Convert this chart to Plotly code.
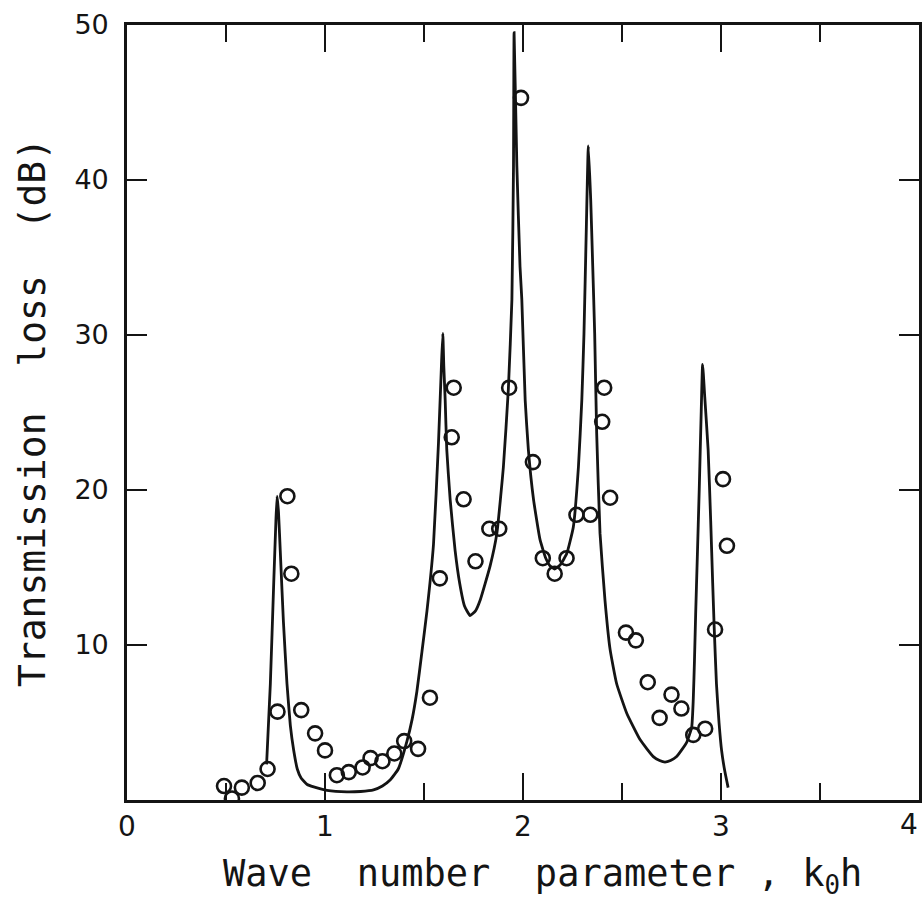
import plotly.graph_objects as go

# Measured transmission loss (open circles)
meas_k0h = [0.49, 0.53, 0.58, 0.66, 0.71, 0.76, 0.81, 0.83, 0.88, 0.95, 1.00,
            1.06, 1.12, 1.19, 1.23, 1.29, 1.35, 1.40, 1.47, 1.53, 1.58, 1.64,
            1.65, 1.70, 1.76, 1.83, 1.88, 1.93, 1.99, 2.05, 2.10, 2.16, 2.22,
            2.27, 2.34, 2.40, 2.41, 2.44, 2.52, 2.57, 2.63, 2.69, 2.75, 2.80,
            2.86, 2.92, 2.97, 3.01, 3.03]
meas_tl = [0.9, 0.1, 0.8, 1.1, 2.0, 5.7, 19.6, 14.6, 5.8, 4.3, 3.2,
           1.6, 1.8, 2.1, 2.7, 2.5, 3.0, 3.8, 3.3, 6.6, 14.3, 23.4,
           26.6, 19.4, 15.4, 17.5, 17.5, 26.6, 45.3, 21.8, 15.6, 14.6, 15.6,
           18.4, 18.4, 24.4, 26.6, 19.5, 10.8, 10.3, 7.6, 5.3, 6.8, 5.9,
           4.2, 4.6, 11.0, 20.7, 16.4]

# Theoretical transmission loss (solid curve)
theory_k0h = [0.705, 0.724, 0.741, 0.752, 0.758, 0.765, 0.774, 0.790, 0.808,
              0.825, 0.842, 0.860, 0.880, 0.910, 0.943, 1.010, 1.111, 1.180,
              1.245, 1.290, 1.330, 1.370, 1.414, 1.440, 1.464, 1.490, 1.515,
              1.548, 1.573, 1.588, 1.595, 1.600, 1.607, 1.615, 1.632, 1.657,
              1.680, 1.705, 1.733, 1.760, 1.784, 1.834, 1.868, 1.901, 1.926,
              1.944, 1.952, 1.955, 1.969, 1.985, 1.994, 2.011, 2.027, 2.053,
              2.086, 2.115, 2.137, 2.160, 2.190, 2.221, 2.254, 2.280, 2.297,
              2.308, 2.320, 2.330, 2.342, 2.352, 2.362, 2.372, 2.389, 2.414,
              2.440, 2.473, 2.524, 2.591, 2.658, 2.690, 2.717, 2.745, 2.776,
              2.826, 2.852, 2.860, 2.866, 2.872, 2.880, 2.890, 2.900, 2.907,
              2.918, 2.935, 2.948, 2.958, 2.966, 2.977, 2.990, 3.003, 3.020,
              3.036]
theory_tl = [2.3, 7.5, 14.0, 18.0, 19.6, 18.6, 16.1, 11.5, 7.5,
             4.8, 3.2, 2.0, 1.4, 1.0, 0.85, 0.62, 0.52, 0.55,
             0.65, 0.9, 1.3, 2.0, 3.8, 5.2, 7.0, 9.6, 12.2,
             16.5, 23.0, 28.0, 30.1, 28.0, 25.8, 22.6, 19.4, 16.1,
             14.0, 12.5, 11.9, 12.2, 12.9, 15.1, 17.2, 21.5, 26.5,
             32.3, 40.9, 49.5, 40.9, 34.4, 32.3, 25.8, 22.6, 19.4,
             16.8, 15.6, 15.1, 14.9, 15.2, 15.9, 17.6, 21.5, 25.8,
             30.1, 37.0, 42.2, 38.7, 34.5, 30.1, 23.7, 17.2, 12.9,
             9.7, 7.5, 5.6, 3.9, 2.8, 2.55, 2.45, 2.55, 2.8,
             3.7, 4.7, 6.5, 9.0, 12.0, 15.5, 20.0, 25.0, 28.1,
             26.0, 22.6, 18.0, 14.0, 11.0, 7.5, 5.0, 3.2, 1.8,
             0.8]

x_ticks = [0, 1, 2, 3, 4]
x_tick_text = ["0", "1", "2", "3", ""]   # last label is set flush to the frame below
x_end_label = "4"
y_ticks = [10, 20, 30, 40, 50]

INK = "#141414"
TEXT_FONT = "DejaVu Sans Mono"
NUM_FONT = "DejaVu Sans"

fig = go.Figure()

fig.add_trace(go.Scatter(
    x=theory_k0h, y=theory_tl, mode="lines",
    line=dict(color=INK, width=2.8, shape="spline", smoothing=0.4),
    showlegend=False, hoverinfo="skip",
))

fig.add_trace(go.Scatter(
    x=meas_k0h, y=meas_tl, mode="markers",
    marker=dict(symbol="circle-open", size=14, color=INK,
                line=dict(color=INK, width=2.6)),
    showlegend=False,
))

axis_common = dict(
    showline=True, linecolor=INK, linewidth=2.6, mirror="ticks",
    showgrid=False, zeroline=False, ticks="inside", tickcolor=INK,
    tickwidth=2.2, automargin=False,
)

fig.update_xaxes(
    range=[0, 4], tickvals=x_ticks, ticktext=x_tick_text, ticklen=27,
    tickfont=dict(family=NUM_FONT, size=28, color=INK),
    minor=dict(dtick=0.5, ticks="inside", ticklen=17, tickcolor=INK,
               tickwidth=2.2, showgrid=False),
    **axis_common,
)

fig.update_yaxes(
    range=[0, 50], tickvals=y_ticks, ticklen=20,
    tickfont=dict(family=NUM_FONT, size=27, color=INK),
    ticklabelstandoff=10,
    title=dict(text="Transmission  loss  (dB)",
               font=dict(family=TEXT_FONT, size=38, color=INK), standoff=18),
    **axis_common,
)

# right-hand end label of the x axis, kept inside the page edge
fig.add_annotation(
    text=x_end_label, x=x_ticks[-1], xref="x", y=0, yref="paper",
    xanchor="right", yanchor="top", yshift=-6, xshift=1, showarrow=False,
    font=dict(family=NUM_FONT, size=28, color=INK),
)

# x-axis title placed as an annotation so its centre sits where it is lettered
fig.add_annotation(
    text="Wave  number  parameter , k<sub>0</sub>h",
    xref="paper", yref="paper", x=0.525, y=-0.065,
    xanchor="center", yanchor="top", showarrow=False,
    font=dict(family=TEXT_FONT, size=37, color=INK),
)

fig.update_layout(
    width=923, height=906,
    margin=dict(l=127, r=4, t=25, b=106, autoexpand=False),
    paper_bgcolor="white", plot_bgcolor="white",
)

fig.write_html("out.html")
